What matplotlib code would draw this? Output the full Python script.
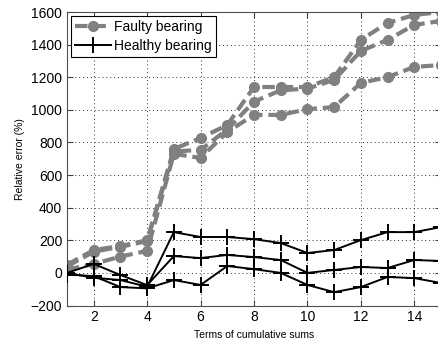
import numpy as np
import matplotlib.pyplot as plt

plt.rcParams['font.family'] = ['Liberation Sans', 'DejaVu Sans']

terms = np.arange(1, 16)

# relative error (%) for the faulty bearing, three runs
faulty_a = [50, 140, 165, 200, 760, 827, 907, 1140, 1140, 1140, 1200, 1429, 1533, 1582, 1600]
faulty_b = [40, 130, 160, 195, 745, 754, 880, 1050, 1120, 1130, 1183, 1361, 1429, 1521, 1545]
faulty_c = [20, 55, 100, 135, 730, 705, 864, 969, 969, 1004, 1017, 1165, 1201, 1263, 1275]

# relative error (%) for the healthy bearing, three runs
healthy_a = [0, -30, -44, -85, 250, 220, 220, 207, 183, 122, 140, 201, 250, 250, 281]
healthy_b = [0, 55, -13, -75, 103, 91, 110, 97, 79, 0, 18, 36, 30, 79, 73]
healthy_c = [-10, -20, -87, -95, -44, -74, 42, 23, 0, -74, -118, -87, -25, -32, -62]

fig = plt.figure(figsize=(4.39, 3.43), dpi=100)
ax = fig.add_axes([67 / 439, 1 - 305.5 / 343, 374 / 439, (305.5 - 12) / 343])

gray = '#808080'
for i, f in enumerate([faulty_a, faulty_b, faulty_c]):
    ax.plot(terms, f, color=gray, linestyle=(0, (3, 1.4)), linewidth=3,
            marker='o', markersize=7, markeredgecolor=gray,
            label='Faulty bearing' if i == 0 else None, zorder=2)
for i, h in enumerate([healthy_a, healthy_b, healthy_c]):
    ax.plot(terms, h, color='black', linewidth=1.4, marker='+',
            markersize=11, markeredgewidth=1.4,
            label='Healthy bearing' if i == 0 else None, zorder=3)

ax.set_xlim(1, 15)
ax.set_ylim(-200, 1600)
ax.set_xticks([2, 4, 6, 8, 10, 12, 14])
ax.set_yticks(np.arange(-200, 1601, 200))
ax.grid(True, color='#333333', linestyle=(0, (1, 3)), linewidth=0.7)
ax.tick_params(direction='in', top=True, right=True, labelsize=10, length=4,
               color='#404040')
for s in ax.spines.values():
    s.set_color('#505050')

ax.set_xlabel('Terms of cumulative sums', fontsize=7.5)
ax.set_ylabel('Relative error (%)', fontsize=7.5)

leg = ax.legend(loc='upper left', fontsize=10, markerscale=1, handlelength=2.6,
                fancybox=False, framealpha=1, edgecolor='black',
                borderaxespad=0.3, borderpad=0.3, labelspacing=0.3,
                handletextpad=0.2, numpoints=1)
leg.get_frame().set_linewidth(0.8)

fig.savefig('out.png', dpi=100)
